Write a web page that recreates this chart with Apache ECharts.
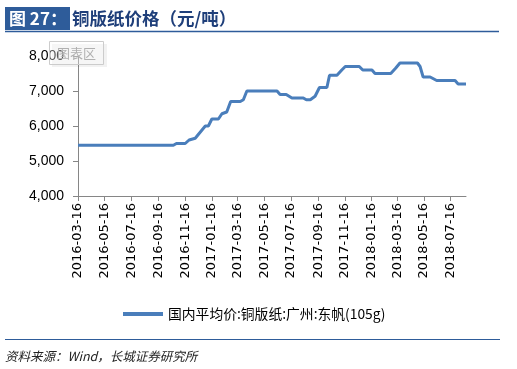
<!DOCTYPE html>
<html>
<head>
<meta charset="utf-8">
<script src="https://cdn.jsdelivr.net/npm/echarts@6/dist/echarts.min.js"></script>
<style>
html,body{margin:0;padding:0;background:#fff;}
#chart{width:517px;height:369px;}
</style>
</head>
<body>
<div id="chart"></div>
<script>
// ---- data ----
var dates = [
  '2016-03-16','2016-10-20','2016-10-27','2016-11-16','2016-11-25','2016-12-09',
  '2017-01-01','2017-01-08','2017-01-16','2017-01-31','2017-02-08','2017-02-19',
  '2017-02-28','2017-03-22','2017-03-29','2017-04-06','2017-06-14','2017-06-21',
  '2017-07-05','2017-07-18','2017-08-13','2017-08-20','2017-08-29','2017-09-09',
  '2017-09-19','2017-10-06','2017-10-12','2017-10-29','2017-11-09','2017-11-17',
  '2017-12-19','2017-12-27','2018-01-17','2018-01-24','2018-03-01','2018-03-12',
  '2018-03-22','2018-05-01','2018-05-07','2018-05-14','2018-05-30','2018-06-14',
  '2018-07-26','2018-08-02','2018-08-20'
];
var prices = [
  5450,5450,5500,5500,5600,5650,
  6000,6000,6200,6200,6350,6400,
  6700,6700,6750,7000,7000,6900,
  6900,6800,6800,6750,6750,6850,
  7100,7100,7450,7450,7600,7700,
  7700,7600,7600,7500,7500,7650,
  7800,7800,7700,7400,7400,7300,
  7300,7200,7200
];
var tickDates = [
  '2016-03-16','2016-05-16','2016-07-16','2016-09-16','2016-11-16',
  '2017-01-16','2017-03-16','2017-05-16','2017-07-16','2017-09-16',
  '2017-11-16','2018-01-16','2018-03-16','2018-05-16','2018-07-16'
];
var axisStart = '2016-03-16';
var axisEnd = '2018-08-20';
var yTicks = [4000, 5000, 6000, 7000, 8000];
var seriesName = '国内平均价:铜版纸:广州:东帆(105g)';
var titleBadge = '图 27：';
var titleText = '铜版纸价格（元/吨）';
var sourceText = '资料来源：Wind，长城证券研究所';
var tipText = '图表区';

var DAY = 86400000;
function ts(s){ var p = s.split('-'); return Date.UTC(+p[0], +p[1]-1, +p[2]); }
var t0 = ts(axisStart);
function dayOf(s){ return Math.round((ts(s) - t0) / DAY); }
function pad(n){ return (n<10?'0':'')+n; }
function fmtDay(v){ var d = new Date(t0 + Math.round(v) * DAY); return d.getUTCFullYear()+'-'+pad(d.getUTCMonth()+1)+'-'+pad(d.getUTCDate()); }

var seriesData = dates.map(function(d,i){ return [dayOf(d), prices[i]]; });
var tickVals = tickDates.map(dayOf);

var chart = echarts.init(document.getElementById('chart'), null, {renderer:'canvas'});
var blue = '#2E5C9A';
chart.setOption({
  animation: false,
  backgroundColor: '#ffffff',
  grid: {left: 78, right: 51, top: 56, bottom: 173, containLabel: false},
  xAxis: {
    type: 'value',
    min: 0,
    max: dayOf(axisEnd),
    axisLine: {show: true, onZero: false, lineStyle: {color: '#868686', width: 1}},
    axisTick: {show: true, customValues: tickVals, length: 5, lineStyle: {color: '#868686'}},
    axisLabel: {
      customValues: tickVals,
      rotate: 90,
      margin: 7,
      fontSize: 13,
      fontFamily: 'DejaVu Sans',
      color: '#000',
      formatter: function(v){ return fmtDay(v); }
    },
    splitLine: {show: false}
  },
  yAxis: {
    type: 'value',
    min: yTicks[0],
    max: yTicks[yTicks.length-1],
    interval: 1000,
    axisLine: {show: true, lineStyle: {color: '#868686', width: 1}},
    axisTick: {show: true, length: 5, lineStyle: {color: '#868686'}},
    axisLabel: {
      margin: 14,
      fontSize: 14,
      fontFamily: 'Liberation Sans',
      color: '#000',
      formatter: function(v){ return v.toString().replace(/\B(?=(\d{3})+(?!\d))/g, ','); }
    },
    splitLine: {show: false}
  },
  legend: {
    show: true,
    left: 118,
    top: 302,
    icon: 'rect',
    itemWidth: 40,
    itemHeight: 4,
    itemGap: 10,
    textStyle: {fontSize: 13.8, fontFamily: 'Noto Sans CJK SC', color: '#000'},
    data: [seriesName]
  },
  series: [{
    name: seriesName,
    type: 'line',
    data: seriesData,
    symbol: 'none',
    lineStyle: {color: '#4A7EBB', width: 3},
    itemStyle: {color: '#4A7EBB'}
  }],
  graphic: [
    {type: 'rect', shape: {x: 5, y: 7, width: 65, height: 23}, style: {fill: blue}, z: 10},
    {type: 'text', x: 9, y: 18.5, style: {text: titleBadge, fill: '#fff', font: 'bold 17px "Noto Sans CJK SC"', textVerticalAlign: 'middle'}, z: 11},
    {type: 'text', x: 72, y: 18.5, style: {text: titleText, fill: '#1F3F7A', font: 'bold 17.5px "Noto Sans CJK SC"', textVerticalAlign: 'middle'}, z: 11},
    {type: 'line', shape: {x1: 5, y1: 31.5, x2: 499, y2: 31.5}, style: {stroke: blue, lineWidth: 1.5}, z: 10},
    {type: 'line', shape: {x1: 5, y1: 339.5, x2: 500, y2: 339.5}, style: {stroke: blue, lineWidth: 1.2}, z: 10},
    {type: 'text', x: 5, y: 356, style: {text: sourceText, fill: '#222', font: 'italic 12.5px "Noto Sans CJK SC"', textVerticalAlign: 'middle'}, z: 11},
    {type: 'rect', shape: {x: 52, y: 44, width: 55, height: 23}, style: {fill: 'rgba(0,0,0,0.05)'}, z: 20},
    {type: 'rect', shape: {x: 49.5, y: 41.5, width: 54, height: 23}, style: {fill: 'rgba(255,255,255,0.35)', stroke: '#cccccc', lineWidth: 1}, z: 21},
    {type: 'text', x: 57, y: 53, style: {text: tipText, fill: '#b0b0b0', font: '13px "Noto Sans CJK SC"', textVerticalAlign: 'middle'}, z: 22}
  ]
});
</script>
</body>
</html>
